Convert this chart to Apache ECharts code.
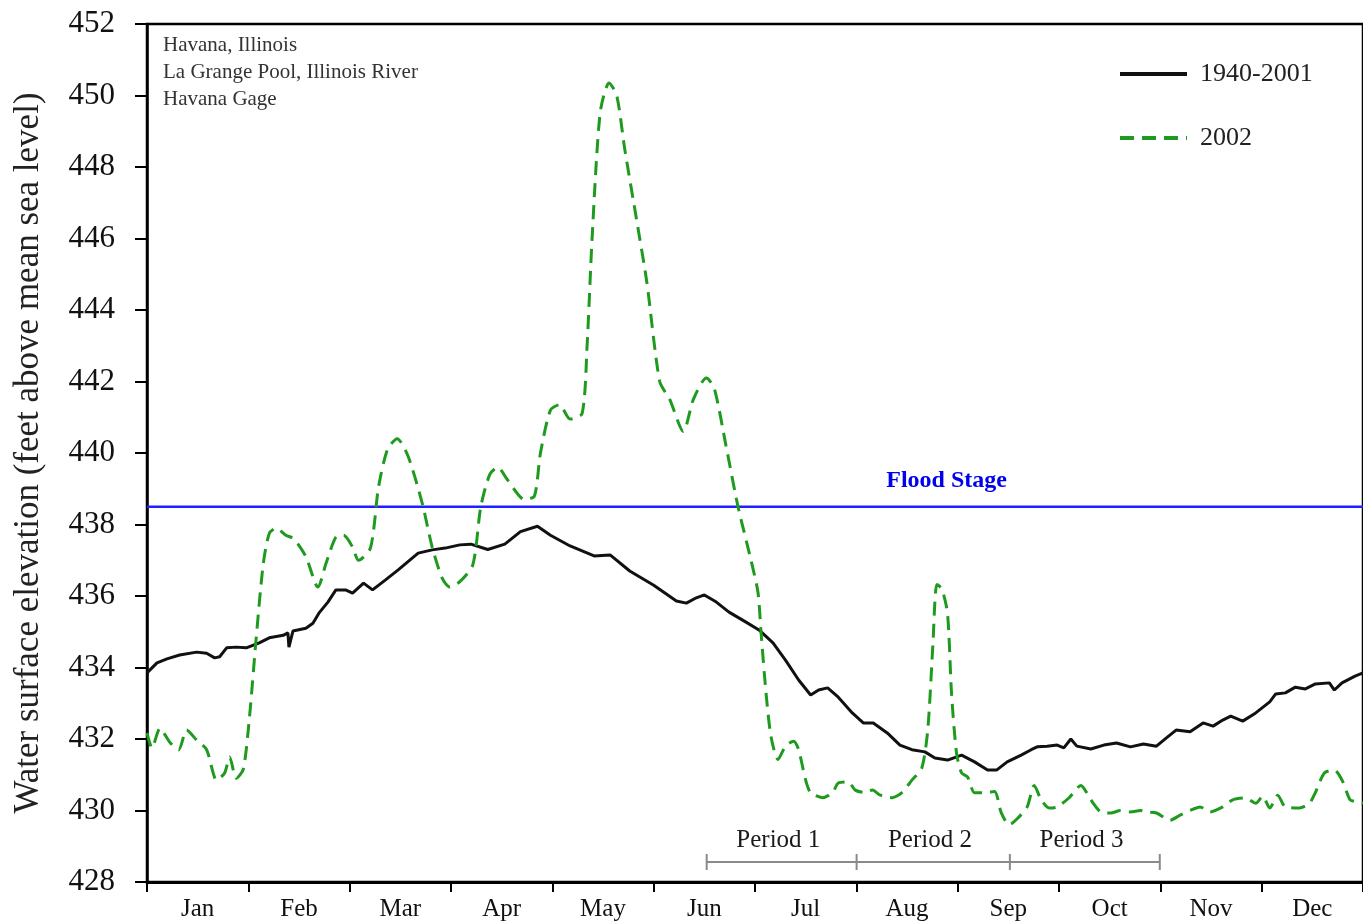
<!DOCTYPE html>
<html>
<head>
<meta charset="utf-8">
<title>Havana Gage water surface elevation</title>
<script src="https://cdn.jsdelivr.net/npm/echarts@6/dist/echarts.min.js"></script>
<style>
  html, body { margin: 0; padding: 0; background: #fff; }
  #chart { width: 1363px; height: 924px; }
</style>
</head>
<body>
<div id="chart"></div>
<script>
// month labels (equal width bands over the year, like the original)
const months = ['Jan', 'Feb', 'Mar', 'Apr', 'May', 'Jun', 'Jul', 'Aug', 'Sep', 'Oct', 'Nov', 'Dec'];

// 1940-2001 mean stage, [day of year, feet]
const mean19402001 = [
  [0, 433.85], [3, 434.13], [6, 434.24], [9.8, 434.35], [14.9, 434.43], [17.9, 434.4],
  [20.3, 434.27], [21.8, 434.3], [23.9, 434.55], [26.8, 434.57], [29.8, 434.55], [33.7, 434.69],
  [36.7, 434.83], [40.9, 434.9], [42.3, 434.97], [42.6, 434.57], [43.8, 435.02], [47.7, 435.1],
  [49.8, 435.24], [51.6, 435.52], [54.3, 435.83], [56.7, 436.17], [59.6, 436.17], [61.7, 436.08],
  [65, 436.36], [67.7, 436.17], [71.6, 436.45], [75.4, 436.73], [79.6, 437.06], [81.4, 437.2],
  [85.6, 437.29], [89.5, 437.34], [93.9, 437.43], [97.2, 437.45], [102.3, 437.3], [107.4, 437.45],
  [112.1, 437.8], [117.2, 437.95], [121.1, 437.7], [127, 437.4], [134.2, 437.12], [139, 437.15],
  [144.9, 436.7], [152.1, 436.3], [158.9, 435.86], [161.9, 435.8], [164.9, 435.95], [167.3, 436.03],
  [170.9, 435.83], [174.7, 435.55], [179.8, 435.27], [183.7, 435.05], [187.9, 434.69], [191.7, 434.2],
  [195.6, 433.65], [199.2, 433.23], [201.6, 433.37], [204.3, 433.43], [207.5, 433.17], [211.7, 432.73],
  [215, 432.45], [218, 432.45], [222.2, 432.17], [226, 431.83], [229.6, 431.7], [233.5, 431.64],
  [236.5, 431.47], [240.3, 431.41], [244.5, 431.55], [248.4, 431.36], [252.3, 431.13], [255, 431.13],
  [258.2, 431.36], [262.4, 431.55], [265.4, 431.7], [267.2, 431.78], [270.2, 431.8], [273.2, 431.83],
  [275.2, 431.75], [277.3, 432.0], [279.1, 431.8], [283.3, 431.72], [287.2, 431.83], [291, 431.89],
  [295.2, 431.78], [299.1, 431.86], [303, 431.8], [306, 432.03], [308.9, 432.25], [313.1, 432.2],
  [317, 432.45], [320, 432.36], [322.9, 432.53], [325.3, 432.64], [328.9, 432.5], [332.8, 432.73],
  [337, 433.04], [338.8, 433.26], [341.7, 433.29], [344.7, 433.45], [347.7, 433.4], [350.7, 433.54],
  [354.9, 433.57], [356.4, 433.37], [358.7, 433.57], [362.6, 433.76], [365, 433.85]
];

// 2002 stage, [day of year, feet]
const stage2002 = [
  [0, 432.17], [1.5, 431.75], [3.9, 432.3], [6.9, 431.9], [9.5, 431.7], [11.9, 432.25],
  [14.9, 431.97], [17.9, 431.7], [20.9, 430.85], [23.3, 431.05], [24.8, 431.5], [26.8, 430.9],
  [28.9, 431.15], [30.7, 432.55], [32.8, 434.85], [34.9, 436.9], [36.7, 437.75], [38.8, 437.9],
  [41.7, 437.7], [44.1, 437.6], [47.7, 437.1], [51.3, 436.25], [53.7, 436.9], [56.7, 437.65],
  [59, 437.7], [61.7, 437.37], [63.5, 437.0], [67.1, 437.35], [69.5, 439.05], [72.2, 440.1],
  [75.1, 440.4], [78.4, 439.9], [82.6, 438.6], [85.6, 437.37], [88.6, 436.5], [90.9, 436.25],
  [93.9, 436.4], [97.8, 436.87], [100.2, 438.5], [102.9, 439.4], [105.3, 439.6], [108.2, 439.25],
  [113.3, 438.7], [116.3, 438.8], [118.1, 440.0], [121.1, 441.2], [123.8, 441.35], [127, 440.95],
  [130.6, 441.1], [132.1, 443.0], [133.6, 446.0], [136, 449.5], [138.7, 450.35], [141, 450.0],
  [143.4, 448.5], [147, 446.5], [150, 444.8], [153.9, 442.0], [156.9, 441.5], [161, 440.6],
  [164, 441.5], [167.9, 442.1], [170.3, 441.8], [173.8, 440.2], [177.4, 438.5], [181.3, 437.0],
  [183.4, 436.1], [184.3, 435.0], [185.8, 433.3], [187.3, 432.07], [189.4, 431.43], [191.7, 431.8],
  [194.1, 431.94], [195.6, 431.7], [197.7, 430.85], [199.2, 430.5], [202.8, 430.36], [205.8, 430.5],
  [207.5, 430.77], [210.5, 430.8], [212.6, 430.57], [215.6, 430.5], [217.7, 430.57], [220.1, 430.43],
  [223.7, 430.36], [226.6, 430.5], [229.6, 430.85], [232.6, 431.2], [234.4, 432.3], [235.9, 434.65],
  [237.1, 436.32], [238.6, 436.2], [240.3, 435.5], [241.5, 433.26], [243, 431.6], [244.5, 431.05],
  [246.3, 430.94], [248.4, 430.5], [251.4, 430.5], [254.4, 430.53], [256.4, 429.94], [258.8, 429.6],
  [261.2, 429.77], [264.2, 430.1], [266.3, 430.7], [268.4, 430.3], [270.8, 430.07], [273.2, 430.1],
  [276.7, 430.35], [280.3, 430.7], [283.3, 430.3], [286.3, 429.96], [289.3, 429.93], [292.2, 430.0],
  [295.2, 429.96], [298.2, 430.0], [300, 429.96], [303, 429.93], [307.1, 429.73], [310.1, 429.87],
  [313.1, 430.0], [316.1, 430.1], [319.1, 429.96], [322.9, 430.1], [325.9, 430.3], [329.8, 430.35],
  [332.8, 430.2], [334.9, 430.4], [337, 430.07], [339.4, 430.43], [341.7, 430.1], [345.9, 430.07],
  [348.9, 430.2], [350.7, 430.5], [353.4, 431.05], [356.4, 431.13], [358.7, 430.85], [361.1, 430.3],
  [362.6, 430.25], [365, 430.2]
];

const floodStage = 438.5;
const floodLabel = [240, 439.22];

// study periods: boundaries in day of year
const periodBounds = [168, 213, 259, 304];
const periodNames = ['Period 1', 'Period 2', 'Period 3'];
const periodBarLevel = 428.56;
const periodLabelLevel = 429.17;

const serif = '"Liberation Serif", "Times New Roman", serif';

const chart = echarts.init(document.getElementById('chart'));

const periodLabels = periodNames.map(function (n, i) {
  return { value: [(periodBounds[i] + periodBounds[i + 1]) / 2 - 1, periodLabelLevel], name: n };
});

const option = {
  animation: false,
  backgroundColor: '#fff',
  title: {
    text: 'Havana, Illinois\nLa Grange Pool, Illinois River\nHavana Gage',
    left: 163,
    top: 32,
    padding: 0,
    textStyle: { fontFamily: serif, fontSize: 21, fontWeight: 'normal', color: '#333', lineHeight: 27 }
  },
  legend: {
    data: ['1940-2001', '2002'],
    orient: 'vertical',
    left: 1113,
    top: 56,
    itemWidth: 67,
    itemHeight: 14,
    itemGap: 38,
    itemStyle: { opacity: 0 },
    lineStyle: { width: 4 },
    textStyle: { fontFamily: serif, fontSize: 26, color: '#222', padding: [0, 0, 0, 8] }
  },
  grid: {
    show: true,
    left: 147,
    top: 24,
    width: 1224,
    height: 858,
    borderColor: '#000',
    borderWidth: 2.5,
    backgroundColor: 'transparent'
  },
  xAxis: [
    { type: 'value', min: 0, max: 365, show: false },
    {
      type: 'category',
      data: months,
      position: 'bottom',
      boundaryGap: true,
      axisLine: { lineStyle: { color: '#000', width: 3 } },
      axisTick: { show: true, inside: false, length: 10, interval: 0, lineStyle: { color: '#000', width: 2 } },
      axisLabel: { fontFamily: serif, fontSize: 25, color: '#111', margin: 15, interval: 0 },
      splitLine: { show: false }
    }
  ],
  yAxis: {
    type: 'value',
    min: 428,
    max: 452,
    interval: 2,
    name: 'Water surface elevation (feet above mean sea level)',
    nameLocation: 'middle',
    nameRotate: 90,
    nameGap: 101,
    nameTextStyle: { fontFamily: serif, fontSize: 35, color: '#222' },
    axisLine: { show: true, lineStyle: { color: '#000', width: 2.5 } },
    axisTick: { show: true, inside: false, length: 12, lineStyle: { color: '#000', width: 2 } },
    axisLabel: { fontFamily: serif, fontSize: 31, color: '#111', margin: 32 },
    splitLine: { show: false }
  },
  series: [
    {
      name: 'flood',
      type: 'line',
      xAxisIndex: 0,
      data: [[0, floodStage], [365, floodStage]],
      symbol: 'none',
      lineStyle: { color: '#1f1fff', width: 2.5 },
      z: 1,
      silent: true
    },
    {
      name: 'floodLabel',
      type: 'scatter',
      xAxisIndex: 0,
      data: [floodLabel],
      symbolSize: 0,
      itemStyle: { opacity: 1 },
      label: {
        show: true,
        position: 'inside',
        formatter: 'Flood Stage',
        fontFamily: serif,
        fontSize: 24,
        fontWeight: 'bold',
        color: '#0000ee',
        opacity: 1
      },
      silent: true
    },
    {
      name: '1940-2001',
      type: 'line',
      xAxisIndex: 0,
      data: mean19402001,
      symbol: 'none',
      lineStyle: { color: '#111', width: 3 },
      itemStyle: { color: '#111' },
      z: 3
    },
    {
      name: '2002',
      type: 'line',
      xAxisIndex: 0,
      data: stage2002,
      symbol: 'none',
      smooth: 0.25,
      lineStyle: { color: '#1e9b1e', width: 3, type: [14, 8] },
      itemStyle: { color: '#1e9b1e' },
      z: 4
    },
    {
      name: 'periodBar',
      type: 'line',
      xAxisIndex: 0,
      data: [[periodBounds[0], periodBarLevel], [periodBounds[periodBounds.length - 1], periodBarLevel]],
      symbol: 'none',
      lineStyle: { color: '#8a8a8a', width: 2 },
      silent: true
    },
    {
      name: 'periodTicks',
      type: 'scatter',
      xAxisIndex: 0,
      data: periodBounds.map(function (d) { return [d, periodBarLevel]; }),
      symbol: 'rect',
      symbolSize: [2, 16],
      itemStyle: { color: '#8a8a8a', opacity: 1 },
      silent: true
    },
    {
      name: 'periodLabels',
      type: 'scatter',
      xAxisIndex: 0,
      data: periodLabels,
      symbolSize: 0,
      itemStyle: { opacity: 1 },
      label: {
        show: true,
        position: 'inside',
        formatter: '{b}',
        fontFamily: serif,
        fontSize: 25,
        color: '#1a1a1a',
        opacity: 1
      },
      silent: true
    }
  ]
};

chart.setOption(option);
</script>
</body>
</html>
